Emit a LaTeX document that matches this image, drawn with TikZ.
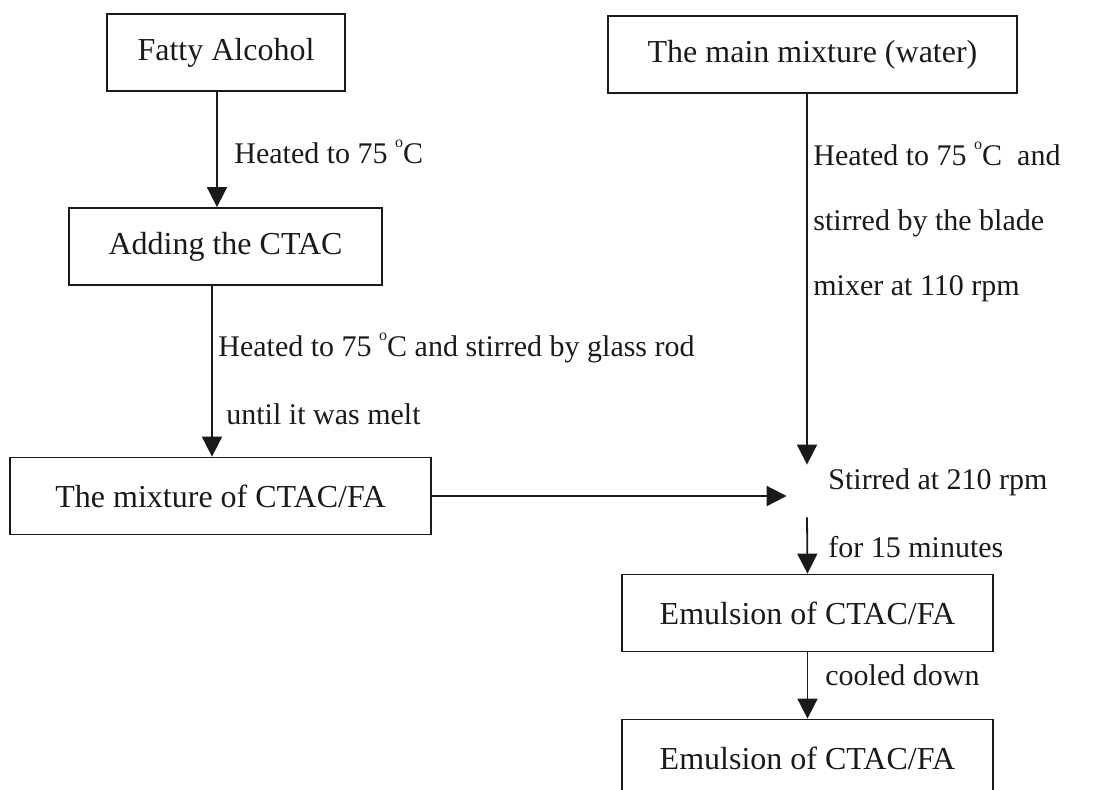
\documentclass[tikz,border=0pt]{standalone}
\usepackage{fontspec}
\setmainfont{Liberation Serif}
\usepackage{tikz}
\usetikzlibrary{arrows.meta,positioning}
\definecolor{InkBlack}{HTML}{1A1A1A}
\tikzset{
  stepbox/.style={draw=InkBlack,line width=0.9pt,text=InkBlack,font=\fontsize{16}{19}\selectfont,minimum height=38.5pt,inner sep=0pt},
  flowarrow/.style={draw=InkBlack,line width=0.9pt,-{Triangle[length=10pt,width=10pt]}},
  steplabel/.style={anchor=west,inner sep=0pt,text=InkBlack,font=\fontsize{15}{18}\selectfont}
}
\newcommand{\degC}{\raisebox{1.15ex}{\fontsize{8}{8}\selectfont o}C}

\begin{document}
\begin{tikzpicture}[x=0.5pt,y=-0.5pt]
  \clip (0,0) rectangle (1093,789);
  \node[stepbox,minimum width=119pt] (fatty) at (226,52.5) {Fatty Alcohol};
  \node[stepbox,minimum width=156.5pt] (adding) at (225.5,246.5) {Adding the CTAC};
  \node[stepbox,minimum width=210.5pt] (mixture) at (220.5,496) {The mixture of CTAC/FA};
  \node[stepbox,minimum width=204.5pt] (water) at (812.5,54.5) {The main mixture (water)};
  \node[minimum width=20pt,minimum height=26pt,inner sep=0pt] (stir) at (807,491) {};
  \node[stepbox,minimum width=185.5pt] (emulsion) at (807.5,613) {Emulsion of CTAC/FA};
  \node[stepbox,minimum width=185.5pt] (cooled) at (807.5,758) {Emulsion of CTAC/FA};

  \draw[flowarrow] ([xshift=-4.5pt]fatty.south) -- ([xshift=-4.5pt]fatty.south |- adding.north);
  \draw[flowarrow] ([xshift=-6.75pt]adding.south) -- ([xshift=-6.75pt]adding.south |- mixture.north);
  \draw[flowarrow] (stir.north |- water.south) -- (stir.north);
  \draw[flowarrow] (mixture.east) -- (mixture.east -| stir.west);
  \draw[flowarrow] (stir.south) -- (emulsion.north);
  \draw[flowarrow] (emulsion.south) -- (cooled.north);

  \node[steplabel] (heatfa) at (234,152) {Heated to 75 \degC};
  \node[steplabel] (heatctac) at (218,348) {Heated to 75 \degC\ and stirred by glass rod};
  \node[steplabel] (melt) at (226,414) {until it was melt};
  \node[steplabel,align=left,font=\fontsize{15}{32.5}\selectfont] (heatwater) at (813,222)
    {Heated to 75 \degC\ \ and\\stirred by the blade\\mixer at 110 rpm};
  \node[steplabel] (stirtxt) at (828,482) {Stirred at 210 rpm};
  \node[steplabel] (minutes) at (828,547) {for 15 minutes};
  \node[steplabel] (cool) at (825,675) {cooled down};
\end{tikzpicture}
\end{document}
